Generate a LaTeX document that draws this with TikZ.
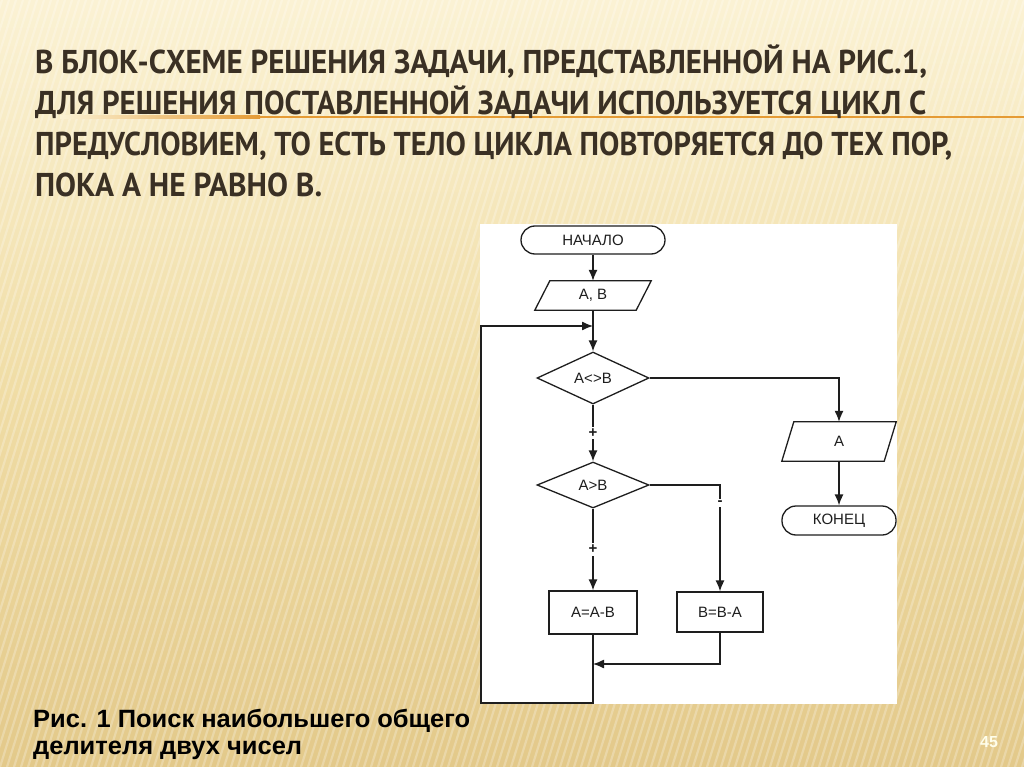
\documentclass[tikz,border=0pt]{standalone}
\usepackage{fontspec}
\setmainfont{Liberation Sans}
\newfontfamily\titlefont{PT Sans}
\usetikzlibrary{arrows.meta,shapes.geometric}
\definecolor{titlecol}{HTML}{3A3024}
\definecolor{bgtop}{HTML}{FBF2D4}
\definecolor{bgmid}{HTML}{F0DDA6}
\definecolor{bgbot}{HTML}{E3C98A}
\definecolor{lineorange}{HTML}{E59B35}
\definecolor{inkc}{HTML}{1E1E1E}
\tikzset{
  fl/.style={draw=inkc, line width=1.3pt},
  arr/.style={-{Latex[length=11pt,width=9pt]}},
  term/.style={fl, rounded corners=14pt, inner sep=0pt, font=\fontsize{15}{15}\selectfont, text=inkc},
  iobox/.style={inner sep=0pt, font=\fontsize{15}{15}\selectfont, text=inkc},
  decide/.style={fl, diamond, inner sep=0pt, font=\fontsize{15}{15}\selectfont, text=inkc},
  procbox/.style={fl, rectangle, inner sep=0pt, font=\fontsize{15}{15}\selectfont, text=inkc},
  lbl/.style={fill=white, inner sep=2pt, font=\bfseries\fontsize{15}{15}\selectfont, text=inkc},
  titleline/.style={anchor=base west, inner sep=0pt, text=titlecol, font=\titlefont\bfseries\fontsize{33}{33}\selectfont},
  capline/.style={anchor=base west, inner sep=0pt, text=black, font=\bfseries\fontsize{25}{25}\selectfont}
}
\begin{document}
\begin{tikzpicture}[x=1pt,y=-1pt]
\useasboundingbox (0,0) rectangle (1024,767);
% background
\shade[top color=bgtop, bottom color=bgbot, middle color=bgmid] (0,0) rectangle (1024,767);
\begin{scope}
\clip (0,0) rectangle (1024,767);
\foreach \i in {-280,-273,...,1030} {
  \draw[white, opacity=0.25, line width=2.2pt] (\i,767) -- ++(240,-767);
}
\end{scope}
% orange rule
\shade[left color=bgtop, right color=lineorange] (60,116) rectangle (260,118.5);
\fill[lineorange] (260,116) rectangle (1024,118.5);
% title
\node[titleline] (t1) at (35,74) {\resizebox{892pt}{\height}{В БЛОК-СХЕМЕ РЕШЕНИЯ ЗАДАЧИ, ПРЕДСТАВЛЕННОЙ НА РИС.1,}};
\node[titleline] (t2) at (35,115) {\resizebox{891pt}{\height}{ДЛЯ РЕШЕНИЯ ПОСТАВЛЕННОЙ ЗАДАЧИ ИСПОЛЬЗУЕТСЯ ЦИКЛ С}};
\node[titleline] (t3) at (35,156) {\resizebox{917pt}{\height}{ПРЕДУСЛОВИЕМ, ТО ЕСТЬ ТЕЛО ЦИКЛА ПОВТОРЯЕТСЯ ДО ТЕХ ПОР,}};
\node[titleline] (t4) at (35,197) {\resizebox{287pt}{\height}{ПОКА А НЕ РАВНО В.}};
% panel
\fill[white] (480,224) rectangle (897,704);
% flowchart nodes
\node[term, minimum width=144pt, minimum height=28pt] (start) at (593,240) {НАЧАЛО};
\node[iobox, minimum width=101pt, minimum height=29pt] (ab) at (593,295.5) {A, B};
\draw[fl] ([xshift=7.5pt]ab.north west) -- ([xshift=7.5pt]ab.north east) -- ([xshift=-7.5pt]ab.south east) -- ([xshift=-7.5pt]ab.south west) -- cycle;
\node[decide, minimum width=112pt, minimum height=52pt] (d1) at (593,378) {A<>B};
\node[decide, minimum width=112pt, minimum height=46pt] (d2) at (593,485) {A>B};
\node[procbox, minimum width=88pt, minimum height=43pt] (aab) at (593,612.5) {A=A-B};
\node[procbox, minimum width=86pt, minimum height=40pt] (bba) at (720,612) {B=B-A};
\node[iobox, minimum width=102pt, minimum height=39pt] (outa) at (839,441.5) {A};
\draw[fl] ([xshift=6pt]outa.north west) -- ([xshift=6pt]outa.north east) -- ([xshift=-6pt]outa.south east) -- ([xshift=-6pt]outa.south west) -- cycle;
\node[term, minimum width=114pt, minimum height=29pt] (fin) at (839,520.5) {КОНЕЦ};
% helper coordinates
\coordinate (lbl) at (481,703);
\coordinate (ltl) at (481,326);
\coordinate (join) at (593,326);
\coordinate (merge) at (593,664);
% connectors
\draw[fl,arr] (start.south) -- (ab.north);
\draw[fl,arr] (ab.south) -- (d1.north);
\draw[fl,arr] (d1.east) -| (outa.north);
\draw[fl,arr] (outa.south) -- (fin.north);
\draw[fl,arr] (d1.south) -- node[lbl] {+} (d2.north);
\draw[fl,arr] (d2.south) -- node[lbl] {+} (aab.north);
\draw[fl,arr] (d2.east) -| node[lbl, pos=0.585] {-} (bba.north);
\draw[fl,arr] (bba.south) |- (merge);
\draw[fl,arr] (aab.south) |- (lbl) -- (ltl) -- (join);
% caption
\node[capline] (cap1) at (33,727) {\resizebox{437pt}{\height}{Рис. 1 Поиск наибольшего общего}};
\node[capline] (cap2) at (33,754) {\resizebox{269pt}{\height}{делителя двух чисел}};
\node[font=\bfseries\fontsize{16}{16}\selectfont, text=white!92!yellow, inner sep=0pt] (pg) at (989,742) {45};
\end{tikzpicture}
\end{document}
